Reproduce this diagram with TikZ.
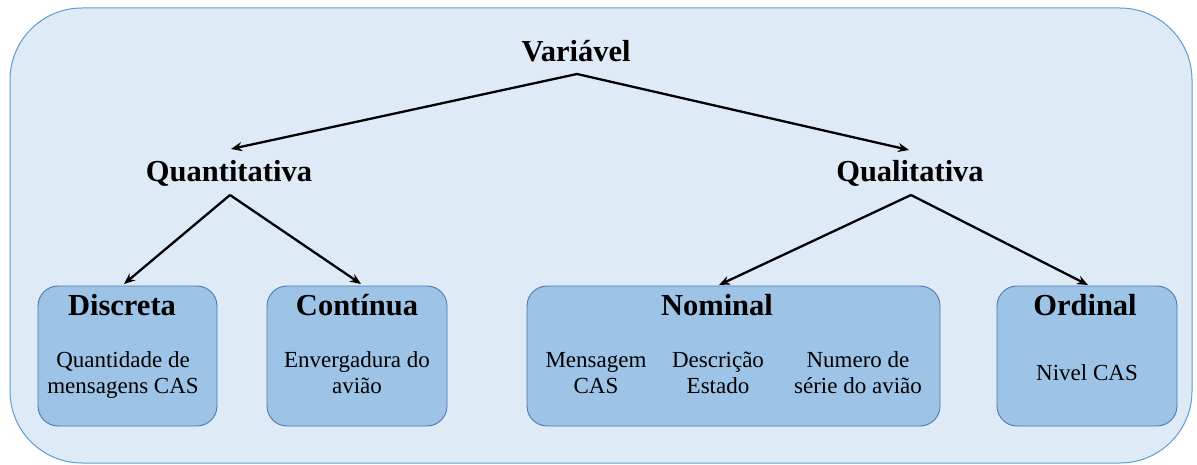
\documentclass[tikz,border=0pt]{standalone}
\usepackage{fontspec}
\setmainfont{Liberation Serif}
\usetikzlibrary{arrows.meta}
\definecolor{panelfill}{HTML}{DEEBF7}
\definecolor{paneledge}{HTML}{5B9BD5}
\definecolor{boxfill}{HTML}{9DC3E6}
\definecolor{boxedge}{HTML}{4F78AE}
\tikzset{
  panel/.style={draw=paneledge, fill=panelfill, line width=1pt, rounded corners=72pt},
  catbox/.style={draw=boxedge, fill=boxfill, line width=0.9pt, rounded corners=20pt},
  head/.style={font=\fontsize{30.5}{36}\selectfont\bfseries, inner sep=0pt, anchor=base},
  body/.style={font=\fontsize{23}{26}\selectfont, inner sep=0pt, anchor=base, align=center},
  arr/.style={line width=2.3pt, -{Stealth[length=11pt,width=9pt]}}
}
\begin{document}
\begin{tikzpicture}[x=1pt,y=-1pt]
\useasboundingbox (0,0) rectangle (1197,465);
% background panel
\draw[panel] (10,8) rectangle (1192,463);

% category boxes
\draw[catbox] (38,286) rectangle (217,426) node[pos=0.5] (discbox) {};
\draw[catbox] (267,286) rectangle (447,426) node[pos=0.5] (contbox) {};
\draw[catbox] (527,286) rectangle (940,426) node[pos=0.5] (nombox) {};
\draw[catbox] (997,286) rectangle (1177,426) node[pos=0.5] (ordbox) {};

% headings
\node[head] (var) at (576,62) {Variável};
\node[head] (quant) at (229,182) {Quantitativa};
\node[head] (qual) at (910,182) {Qualitativa};
\node[head] (disc) at (122,315) {Discreta};
\node[head] (cont) at (357,315) {Contínua};
\node[head] (nom) at (717,315) {Nominal};
\node[head] (ord) at (1085,315) {Ordinal};

% examples (base anchor sits on the last line)
\node[body] (ex1) at (123,393) {Quantidade de\\mensagens CAS};
\node[body] (ex2) at (357,393) {Envergadura do\\avião};
\node[body] (ex3) at (596,393) {Mensagem\\CAS};
\node[body] (ex4) at (718,393) {Descrição\\Estado};
\node[body] (ex5) at (858,393) {Numero de\\série do avião};
\node[body] (ex6) at (1087,380) {Nivel CAS};

% connector end points
\coordinate (var-out) at (577,74);
\coordinate (quant-in) at (231,149);
\coordinate (qual-in) at (909,150);
\coordinate (quant-out) at (230,195);
\coordinate (qual-out) at (911,195);
\coordinate (disc-in) at (124,284);
\coordinate (cont-in) at (361,284);
\coordinate (nom-in) at (719,285);
\coordinate (ord-in) at (1088,285);

\draw[arr] (var-out) -- (quant-in);
\draw[arr] (var-out) -- (qual-in);
\draw[arr] (quant-out) -- (disc-in);
\draw[arr] (quant-out) -- (cont-in);
\draw[arr] (qual-out) -- (nom-in);
\draw[arr] (qual-out) -- (ord-in);
\end{tikzpicture}
\end{document}
